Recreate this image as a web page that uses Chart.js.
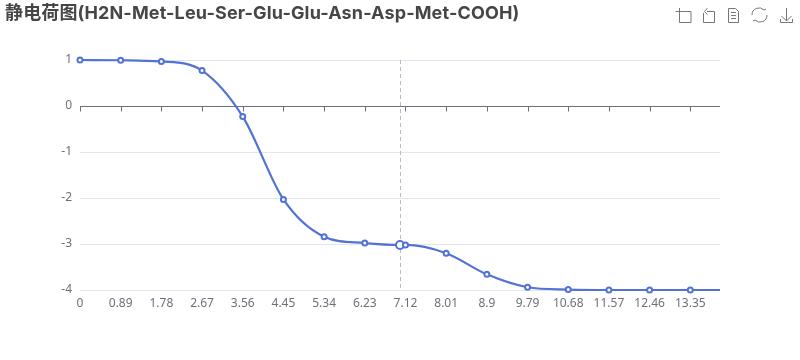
<!DOCTYPE html>
<html>
<head>
<meta charset="utf-8">
<script src="https://cdn.jsdelivr.net/npm/chart.js@4"></script>
<style>
  html, body { margin: 0; padding: 0; background: #fff; }
  #box { position: relative; width: 800px; height: 360px; overflow: hidden; }
  #title { position: absolute; left: 5px; top: 1px; font: bold 18px "Inter", "Noto Sans CJK SC", sans-serif; letter-spacing: 0.13px; line-height: 24px; color: #464646; white-space: nowrap; }
  #tools { position: absolute; left: 0; top: 0; }
  #c { position: absolute; left: 0; top: 0; }
</style>
</head>
<body>
<div id="box">
  <canvas id="c" width="800" height="360"></canvas>
  <div id="title">静电荷图(H2N-Met-Leu-Ser-Glu-Glu-Asn-Asp-Met-COOH)</div>
  <svg id="tools" width="800" height="30" fill="none" stroke="#777" stroke-width="1">
    <path d="M679.500 8v14.500h11.500V11.500H675.500"/>
    <path d="M707 11.500h7.500v11h-11V13M707.500 8l-3 3.500 3 3"/>
    <path d="M728.500 8.500h7l3 3v11h-10zM731 12.500h5M731 15.500h5M731 18.500h5"/>
    <path d="M752 15a7 7 0 0 1 12-5l2-1M767 15a7 7 0 0 1-12 5l-2 1"/>
    <path d="M786.500 8v13M781.500 16l5 5 5-5M780.500 19v3.500h12V19"/>
  </svg>
</div>
<script>
  const xValues = [0, 0.89, 1.78, 2.67, 3.56, 4.45, 5.34, 6.23, 7, 7.12, 8.01, 8.9, 9.79, 10.68, 11.57, 12.46, 13.35, 14];
  const chargeValues = [1, 0.995, 0.97, 0.77, -0.23, -2.03, -2.84, -2.98, -3.02, -3.02, -3.2, -3.66, -3.94, -3.99, -4, -4, -4, -4];
  const xTicks = [0, 0.89, 1.78, 2.67, 3.56, 4.45, 5.34, 6.23, 7.12, 8.01, 8.9, 9.79, 10.68, 11.57, 12.46, 13.35];
  const yTicks = [1, 0, -1, -2, -3, -4];
  const hoverX = 7;

  const lineColor = "#5272d6";
  const labelColor = "#6e7079";

  // x轴线画在 y=0 的位置，刻度标签留在底部
  const zeroAxis = {
    id: "zeroAxis",
    beforeDatasetsDraw(chart) {
      const { ctx, scales } = chart;
      const y0 = Math.round(scales.y.getPixelForValue(0)) + 0.5;
      ctx.save();
      ctx.strokeStyle = labelColor;
      ctx.lineWidth = 1;
      ctx.beginPath();
      ctx.moveTo(scales.x.left, y0);
      ctx.lineTo(scales.x.right, y0);
      xTicks.forEach(t => {
        const px = Math.round(scales.x.getPixelForValue(t)) + 0.5;
        ctx.moveTo(px, y0);
        ctx.lineTo(px, y0 + 5);
      });
      ctx.stroke();

      // 悬停时的竖直虚线
      const hx = Math.round(scales.x.getPixelForValue(hoverX)) + 0.5;
      ctx.strokeStyle = "#b6b9c6";
      ctx.setLineDash([4, 3]);
      ctx.beginPath();
      ctx.moveTo(hx, scales.y.top);
      ctx.lineTo(hx, scales.y.bottom);
      ctx.stroke();
      ctx.restore();
    },
  };

  new Chart(document.getElementById("c").getContext("2d"), {
    type: "line",
    data: {
      datasets: [
        {
          label: "charge",
          data: xValues.map((x, i) => ({ x: x, y: chargeValues[i] })),
          borderColor: lineColor,
          borderWidth: 2.2,
          clip: false,
          cubicInterpolationMode: "monotone",
          backgroundColor: "#fff",
          pointBackgroundColor: "#fff",
          pointBorderColor: lineColor,
          pointBorderWidth: 2,
          pointRadius: ctx => {
            const x = xValues[ctx.dataIndex];
            if (x === hoverX) return 4;
            if (x === 14) return 0;
            return 2.5;
          },
        },
      ],
    },
    plugins: [zeroAxis],
    options: {
      responsive: false,
      animation: false,
      layout: { padding: { top: 60, right: 80, bottom: 0, left: 0 } },
      plugins: { legend: { display: false }, tooltip: { enabled: false } },
      scales: {
        x: {
          type: "linear",
          min: 0,
          max: 14,
          afterBuildTicks: axis => { axis.ticks = xTicks.map(v => ({ value: v })); },
          afterFit: axis => { axis.height = 70; },
          grid: { display: false, drawTicks: false },
          border: { display: false },
          ticks: {
            color: labelColor,
            padding: 6,
            autoSkip: false,
            maxRotation: 0,
            font: { size: 12, family: "Noto Sans" },
            callback: v => String(v),
          },
        },
        y: {
          min: -4,
          max: 1,
          afterBuildTicks: axis => { axis.ticks = yTicks.map(v => ({ value: v })); },
          afterFit: axis => { axis.width = 80; },
          grid: {
            color: c => (c.tick && c.tick.value === 0 ? "transparent" : "#e0e6f1"),
            drawTicks: false,
          },
          border: { display: false },
          ticks: {
            color: labelColor,
            padding: 8,
            font: { size: 12, family: "Noto Sans" },
          },
        },
      },
    },
  });
</script>
</body>
</html>
